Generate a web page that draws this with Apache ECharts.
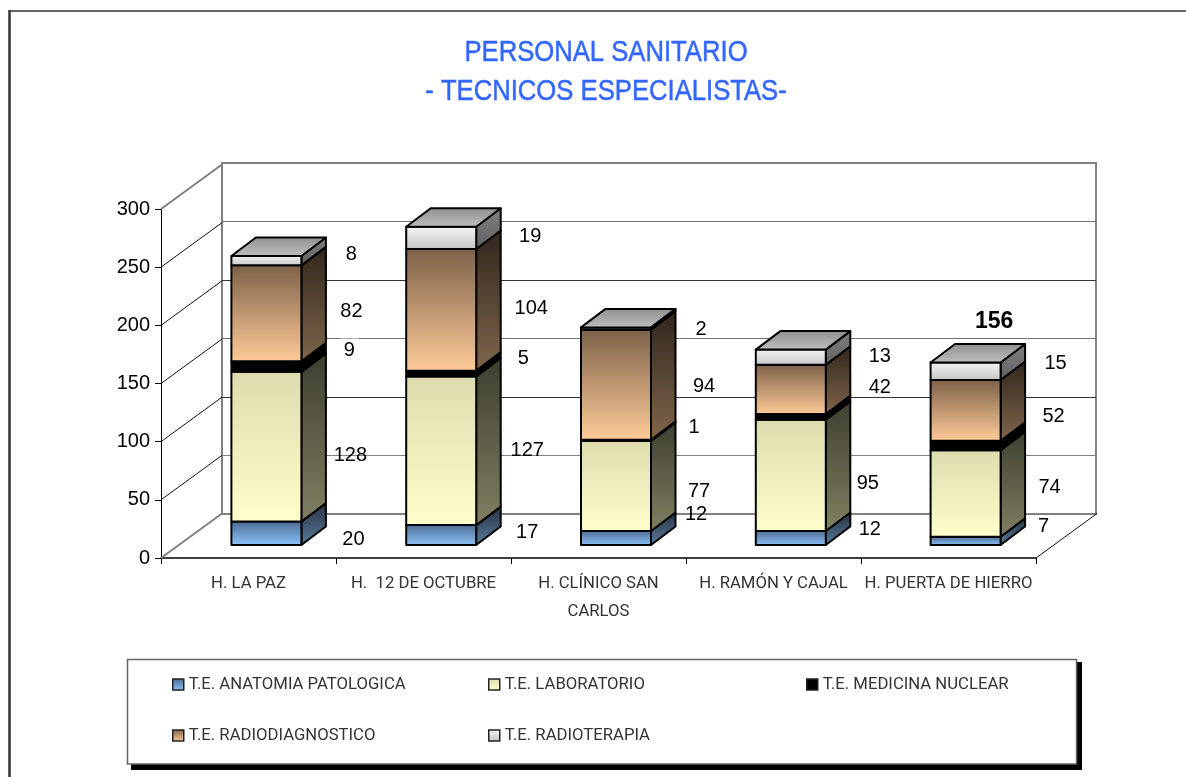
<!DOCTYPE html>
<html>
<head>
<meta charset="utf-8">
<style>
  html, body { margin: 0; padding: 0; background: #fff; }
  #chart { width: 1186px; height: 777px; }
</style>
<script src="https://cdn.jsdelivr.net/npm/echarts@6/dist/echarts.min.js"></script>
</head>
<body>
<div id="chart"></div>
<script>
const titleText = 'PERSONAL SANITARIO\n- TECNICOS ESPECIALISTAS-'
const categories = ['H. LA PAZ', 'H.  12 DE OCTUBRE', 'H. CLÍNICO SAN\nCARLOS', 'H. RAMÓN Y CAJAL', 'H. PUERTA DE HIERRO']
const yTicks = [0, 50, 100, 150, 200, 250, 300]

const seriesNames = ['T.E. ANATOMIA PATOLOGICA', 'T.E. LABORATORIO', 'T.E. MEDICINA NUCLEAR', 'T.E. RADIODIAGNOSTICO', 'T.E. RADIOTERAPIA']
const anatomia = [20, 17, 12, 12, 7]
const laboratorio = [128, 127, 77, 95, 74]
const nuclear = [9, 5, 1, 5, 8]
const radiodiagnostico = [82, 104, 94, 42, 52]
const radioterapia = [8, 19, 2, 13, 15]
const layers = [anatomia, laboratorio, nuclear, radiodiagnostico, radioterapia]

const totalCat = 4
const totalValue = 156

// the labels were dragged by hand in the original, so each one has its own nudge (null = no label)
const labelNudge = [
  [[28, 5], [27, -4], [21, -25], [20, -10], [19, -16]],
  [[25, 7], [27, -2], [24, 4], [18, 7], [25, -8]],
  [[24, -18], [23, -17], [19, -14], null, null],
  [[26, -3], [31, -3], [29, 0], [30, -3], [29, 5]],
  [[26, -8], [30, -3], [26, -1], [30, -2], [31, -9]]
]

// front colours top -> bottom, side colours top -> bottom
const frontColors = [
  ['#4a6a92', '#8fc4fa'],
  ['#dcdcae', '#ffffcc'],
  ['#000000', '#000000'],
  ['#7c6048', '#ffcc99'],
  ['#f6f6f6', '#c4c4c4']
]
const sideColors = [
  ['#26303e', '#5a7c9e'],
  ['#3e3e30', '#808062'],
  ['#000000', '#000000'],
  ['#30261c', '#80664c'],
  ['#808080', '#606060']
]

const vGrad = (c) => new echarts.graphic.LinearGradient(0, 0, 0, 1, [
  { offset: 0, color: c[0] },
  { offset: 1, color: c[1] }
])

// bars stand inside the box, shifted from the back wall towards the viewer
const shiftX = -43
const shiftY = 31
const barW = 70
const depthX = 24.5
const depthY = -18.5
const wallX = 61
const wallY = -44.5

const sansFont = '"Liberation Sans", Arial, sans-serif'
const smallFont = 'Roboto, "Liberation Sans", sans-serif'

const chart = echarts.init(document.getElementById('chart'))

const barItem = (idx) => (params, api) => {
  const cat = api.value(0)
  const base = api.value(1)
  const val = api.value(2)
  const c0 = api.coord([cat, base])
  const c1 = api.coord([cat, base + val])
  const x0 = c0[0] + shiftX - barW / 2
  const x1 = x0 + barW
  const yb = c0[1] + shiftY
  const yt = c1[1] + shiftY
  const line = { stroke: '#000', lineWidth: 2, lineJoin: 'round' }
  const children = [
    {
      type: 'polygon',
      shape: { points: [[x1, yb], [x1 + depthX, yb + depthY], [x1 + depthX, yt + depthY], [x1, yt]] },
      style: { fill: vGrad(sideColors[idx]), ...line }
    },
    {
      type: 'rect',
      shape: { x: x0, y: yt, width: barW, height: yb - yt },
      style: { fill: vGrad(frontColors[idx]), ...line }
    }
  ]
  if (idx === layers.length - 1) {
    children.push({
      type: 'polygon',
      shape: { points: [[x0, yt], [x1, yt], [x1 + depthX, yt + depthY], [x0 + depthX, yt + depthY]] },
      style: { fill: vGrad(['#8e8e8e', '#c0c0c0']), ...line }
    })
  }
  return { type: 'group', children }
}

const barSeries = layers.map((vals, idx) => ({
  name: seriesNames[idx],
  type: 'custom',
  xAxisIndex: 1,
  yAxisIndex: 1,
  z: 3,
  renderItem: barItem(idx),
  encode: { x: 0, y: 1 },
  data: vals.map((v, cat) => {
    let base = 0
    for (let k = 0; k < idx; k++) base += layers[k][cat]
    return [cat, base, v]
  })
}))

const labelData = []
layers.forEach((vals, idx) => {
  vals.forEach((v, cat) => {
    if (!labelNudge[idx][cat]) return
    let base = 0
    for (let k = 0; k < idx; k++) base += layers[k][cat]
    labelData.push([cat, base + v / 2, v, labelNudge[idx][cat][0], labelNudge[idx][cat][1]])
  })
})

const labelSeries = {
  type: 'custom',
  xAxisIndex: 1,
  yAxisIndex: 1,
  z: 5,
  renderItem: (params, api) => {
    const c = api.coord([api.value(0), api.value(1)])
    // only the "9" of H. LA PAZ keeps a white box behind it
    const boxed = api.value(3) === 24 && api.value(4) === -18
    return {
      type: 'text',
      style: {
        text: String(api.value(2)),
        x: c[0] + shiftX + barW / 2 + depthX + api.value(3) - 0.5,
        y: c[1] + shiftY + api.value(4) + 1.5,
        font: '20px ' + sansFont,
        fill: '#000',
        align: 'center',
        verticalAlign: 'middle',
        backgroundColor: boxed ? '#fff' : 'transparent',
        padding: boxed ? [3, 4, 0, 4] : 0
      }
    }
  },
  data: labelData
}

const totalSeries = {
  type: 'custom',
  xAxisIndex: 1,
  yAxisIndex: 1,
  z: 5,
  renderItem: (params, api) => {
    const c = api.coord([api.value(0), api.value(1)])
    return {
      type: 'text',
      style: {
        text: String(api.value(1)),
        x: c[0] + shiftX + 28.5,
        y: c[1] + shiftY - 41,
        font: 'bold 23px ' + sansFont,
        fill: '#000',
        align: 'center',
        verticalAlign: 'middle'
      }
    }
  },
  data: [[totalCat, totalValue]]
}

// diagonals on the left wall and the floor's right edge
const wallSeries = {
  type: 'custom',
  xAxisIndex: 0,
  yAxisIndex: 0,
  z: 1,
  renderItem: (params, api) => {
    const c = api.coord([0, api.value(0)])
    const x = c[0] - api.size([1, 0])[0] / 2
    const edge = params.dataIndex === 0 || params.dataIndex === yTicks.length - 1
    return {
      type: 'line',
      shape: { x1: x, y1: c[1], x2: x + wallX, y2: c[1] + wallY },
      style: { stroke: edge ? '#808080' : '#111', lineWidth: edge ? 2 : 1 }
    }
  },
  data: yTicks.map((v) => [v])
}

const floorEdge = {
  type: 'custom',
  xAxisIndex: 0,
  yAxisIndex: 0,
  z: 1,
  renderItem: (params, api) => {
    const c = api.coord([categories.length - 1, 0])
    const x = c[0] + api.size([1, 0])[0] / 2
    return {
      type: 'line',
      shape: { x1: x, y1: c[1], x2: x + wallX, y2: c[1] + wallY },
      style: { stroke: '#111', lineWidth: 1 }
    }
  },
  data: [[0]]
}

const legendSpots = [[172, 676], [488, 676], [806, 676], [172, 727], [488, 727]]
const legends = seriesNames.map((name, i) => ({
  left: legendSpots[i][0],
  top: legendSpots[i][1],
  padding: 0,
  itemWidth: 11,
  itemHeight: 11,
  selectedMode: false,
  textStyle: { color: '#333', fontFamily: smallFont, fontSize: 16.7 },
  data: [{
    name,
    icon: 'rect',
    itemStyle: { color: vGrad(frontColors[i]), borderColor: '#222', borderWidth: 1.5 }
  }]
}))

const option = {
  animation: false,
  backgroundColor: '#fff',
  legend: legends,
  grid: [
    { left: 161, top: 209, width: 875, height: 349, containLabel: false },
    { left: 222, top: 163, width: 874, height: 351, show: true, borderColor: '#808080', borderWidth: 2, backgroundColor: 'transparent' }
  ],
  xAxis: [
    {
      type: 'category',
      gridIndex: 0,
      data: categories,
      axisLine: { lineStyle: { color: '#000', width: 1.5 } },
      axisTick: { show: true, length: 6, lineStyle: { color: '#000' } },
      axisLabel: {
        interval: 0,
        color: '#333',
        fontFamily: smallFont,
        fontSize: 16.7,
        lineHeight: 28,
        margin: 12
      }
    },
    {
      type: 'category',
      gridIndex: 1,
      data: categories,
      axisLine: { show: false },
      axisTick: { show: false },
      axisLabel: { show: false }
    }
  ],
  yAxis: [
    {
      type: 'value',
      gridIndex: 0,
      min: 0,
      max: 300,
      interval: 50,
      axisLine: { show: true, lineStyle: { color: '#000', width: 1 } },
      axisTick: { show: true, length: 6, lineStyle: { color: '#000' } },
      axisLabel: { color: '#000', fontFamily: sansFont, fontSize: 20, margin: 11, padding: [0, 0, 2, 0] },
      splitLine: { show: false }
    },
    {
      type: 'value',
      gridIndex: 1,
      min: 0,
      max: 300,
      interval: 50,
      axisLine: { show: false },
      axisTick: { show: false },
      axisLabel: { show: false },
      splitLine: {
        show: true,
        showMinLine: false,
        showMaxLine: false,
        lineStyle: { color: ['#808080', '#333', '#707070', '#333', '#707070', '#333', '#808080'], width: 1 }
      }
    }
  ],
  graphic: [
    // title glyphs in the original are condensed, no narrow face here so squeeze the regular one
    {
      type: 'text',
      x: 606,
      y: 72,
      scaleX: 0.855,
      z: 10,
      style: {
        text: titleText,
        font: '30px ' + sansFont,
        lineHeight: 39,
        fill: '#3366ff',
        stroke: '#3366ff',
        lineWidth: 0.5,
        align: 'center',
        verticalAlign: 'middle'
      }
    },
    // outer frame only shows its top and left edges
    { type: 'line', z: -10, shape: { x1: 9, y1: 11, x2: 1186, y2: 11 }, style: { stroke: '#333', lineWidth: 1.5 } },
    { type: 'line', z: -10, shape: { x1: 9.5, y1: 10, x2: 9.5, y2: 777 }, style: { stroke: '#333', lineWidth: 2.5 } },
    // legend box with its hard shadow
    { type: 'rect', z: -9, shape: { x: 131, y: 662, width: 951, height: 108 }, style: { fill: '#000' } },
    { type: 'rect', z: -8, shape: { x: 127.5, y: 659.5, width: 949, height: 104.5 }, style: { fill: '#fff', stroke: '#666', lineWidth: 1.5 } }
  ],
  series: [wallSeries, floorEdge, ...barSeries, labelSeries, totalSeries]
}

chart.setOption(option)
</script>
</body>
</html>
